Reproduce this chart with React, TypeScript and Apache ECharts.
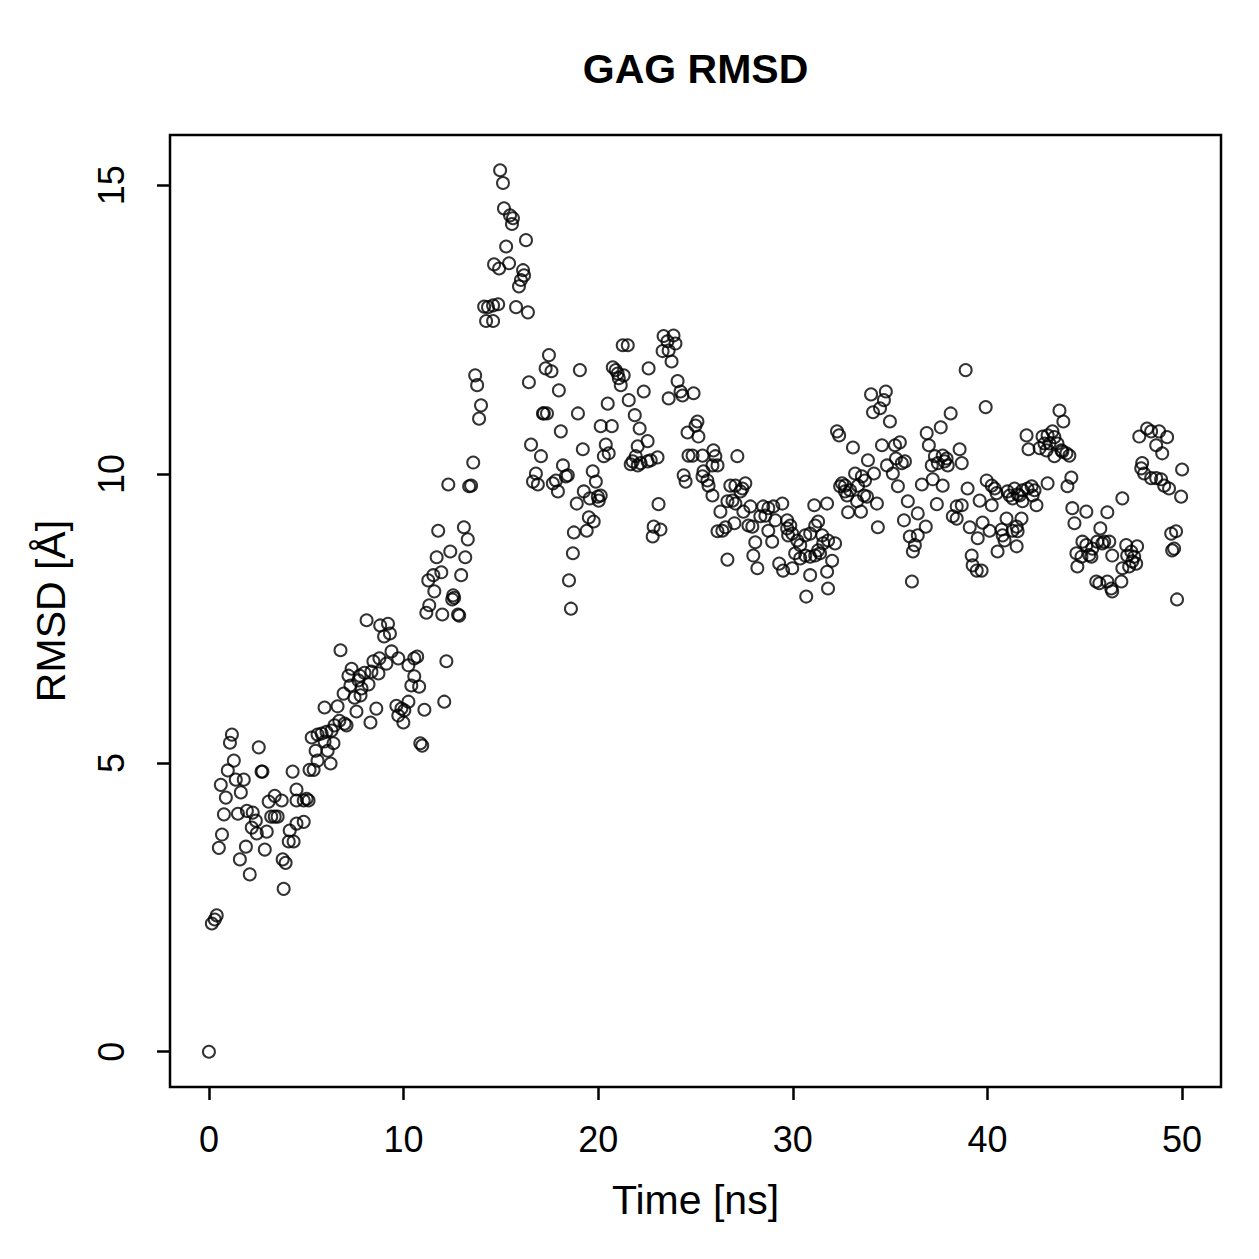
import React, { useEffect, useRef } from "react";
import * as echarts from "echarts";

// RMSD samples of the GAG trajectory as [time in ns, RMSD in Å], grouped by 10 ns window.
const rmsd0to10: [number, number][] = [
  [0, 0], [0.15, 2.22], [0.3, 2.29], [0.4, 2.36], [0.51, 3.53], [0.61, 4.62], [0.67, 3.76], [0.77, 4.11],
  [0.87, 4.4], [0.97, 4.87], [1.08, 5.35], [1.18, 5.49], [1.28, 5.04], [1.38, 4.71], [1.49, 4.12], [1.59, 3.33],
  [1.64, 4.49], [1.79, 4.71], [1.9, 3.55], [1.95, 4.17], [2.1, 3.07], [2.2, 3.88], [2.25, 4.14], [2.41, 4.0],
  [2.46, 3.78], [2.56, 5.27], [2.7, 4.85], [2.75, 4.85], [2.87, 3.5], [2.97, 3.81], [3.07, 4.33], [3.2, 4.07],
  [3.38, 4.43], [3.38, 4.07], [3.53, 4.07], [3.74, 4.35], [3.79, 3.33], [3.84, 2.82], [3.94, 3.27], [4.1, 3.64],
  [4.15, 3.83], [4.3, 4.85], [4.35, 3.64], [4.5, 4.54], [4.5, 4.35], [4.5, 3.95], [4.87, 3.98], [4.87, 4.35],
  [5.02, 4.38], [5.12, 4.35], [5.17, 4.88], [5.28, 5.44], [5.38, 4.88], [5.48, 5.21], [5.58, 5.49], [5.58, 5.04],
  [5.79, 5.51], [5.94, 5.96], [5.94, 5.37], [6.04, 5.54], [6.1, 5.21], [6.25, 4.99], [6.3, 5.56], [6.4, 5.34],
  [6.45, 5.65], [6.61, 5.98], [6.7, 5.73], [6.76, 6.95], [6.92, 6.2], [6.97, 5.68], [7.07, 5.65], [7.17, 6.51],
  [7.27, 6.34], [7.33, 6.63], [7.48, 6.13], [7.58, 5.89], [7.68, 6.43], [7.74, 6.51], [7.79, 6.17], [7.84, 6.29],
  [7.99, 6.56], [8.1, 7.47], [8.2, 6.36], [8.3, 5.7], [8.35, 6.58], [8.45, 6.76], [8.6, 5.94], [8.71, 6.55],
  [8.76, 6.81], [8.8, 7.38], [9.0, 7.19], [9.12, 6.72], [9.2, 7.41], [9.3, 7.24], [9.38, 6.93], [9.63, 5.99],
  [9.73, 6.81], [9.73, 5.82], [9.89, 5.94], [9.99, 5.7],
];

const rmsd10to20: [number, number][] = [
  [10.04, 5.91], [10.25, 6.06], [10.25, 6.69], [10.4, 6.34], [10.55, 6.81], [10.55, 6.5], [10.7, 6.84], [10.8, 6.32],
  [10.86, 5.34], [10.96, 5.3], [11.07, 5.92], [11.17, 7.6], [11.27, 8.16], [11.32, 7.73], [11.53, 8.25], [11.58, 7.97],
  [11.7, 8.56], [11.78, 9.02], [11.94, 8.3], [11.99, 7.57], [12.09, 6.06], [12.2, 6.76], [12.3, 9.82], [12.4, 8.66],
  [12.5, 7.83], [12.55, 7.9], [12.6, 7.86], [12.8, 7.57], [12.86, 7.55], [12.96, 8.25], [13.1, 9.08], [13.17, 8.56],
  [13.3, 8.87], [13.37, 9.79], [13.47, 9.8], [13.58, 10.2], [13.68, 11.71], [13.78, 11.54], [13.88, 10.96], [13.98, 11.19],
  [14.14, 12.9], [14.24, 12.65], [14.34, 12.89], [14.6, 12.92], [14.6, 12.65], [14.65, 13.63], [14.86, 12.94], [14.91, 13.56],
  [14.96, 15.26], [15.11, 15.04], [15.16, 14.6], [15.27, 13.94], [15.42, 13.65], [15.47, 14.48], [15.57, 14.33], [15.62, 14.43],
  [15.78, 12.89], [15.93, 13.25], [16.03, 13.36], [16.14, 13.53], [16.19, 13.44], [16.29, 14.05], [16.39, 12.8], [16.44, 11.59],
  [16.55, 10.51], [16.65, 9.87], [16.8, 10.01], [16.9, 9.82], [17.06, 10.31], [17.16, 11.05], [17.21, 11.05], [17.3, 11.83],
  [17.37, 11.05], [17.47, 12.06], [17.6, 11.78], [17.67, 9.84], [17.83, 9.89], [17.93, 9.7], [17.98, 11.45], [18.08, 10.74],
  [18.19, 10.15], [18.34, 9.96], [18.44, 9.98], [18.5, 8.16], [18.6, 7.67], [18.7, 8.63], [18.75, 8.99], [18.9, 9.49],
  [18.96, 11.05], [19.06, 11.8], [19.21, 10.43], [19.26, 9.7], [19.41, 9.02], [19.52, 9.25], [19.57, 9.58], [19.72, 10.05],
  [19.77, 9.18], [19.88, 9.87], [19.98, 9.61],
];

const rmsd20to30: [number, number][] = [
  [20.03, 9.54], [20.13, 9.63], [20.13, 10.83], [20.29, 10.31], [20.39, 10.51], [20.49, 11.22], [20.54, 10.36], [20.7, 10.83],
  [20.75, 11.85], [20.9, 11.8], [21.0, 11.74], [21.06, 11.66], [21.16, 11.54], [21.26, 12.23], [21.31, 11.71], [21.52, 12.23],
  [21.57, 11.28], [21.67, 10.17], [21.77, 10.22], [21.88, 11.02], [21.93, 10.31], [22.03, 10.48], [22.03, 10.15], [22.13, 10.79],
  [22.18, 10.19], [22.34, 11.43], [22.54, 10.57], [22.54, 10.22], [22.59, 11.83], [22.7, 10.24], [22.8, 8.92], [22.85, 9.09],
  [23.05, 10.29], [23.1, 9.48], [23.2, 9.04], [23.31, 12.13], [23.36, 12.39], [23.56, 12.3], [23.62, 12.14], [23.62, 11.31],
  [23.77, 11.95], [23.87, 12.4], [23.97, 12.26], [24.08, 11.61], [24.23, 11.43], [24.33, 11.36], [24.39, 9.98], [24.49, 9.87],
  [24.59, 10.72], [24.64, 10.32], [24.85, 10.32], [24.9, 11.4], [25.0, 10.84], [25.1, 10.91], [25.15, 10.65], [25.36, 10.32],
  [25.36, 9.96], [25.41, 10.05], [25.61, 9.89], [25.67, 9.8], [25.87, 10.15], [25.87, 9.63], [25.92, 10.41], [26.02, 10.31],
  [26.13, 10.15], [26.13, 9.01], [26.28, 9.35], [26.38, 9.02], [26.54, 9.08], [26.64, 9.53], [26.64, 8.52], [26.79, 9.8],
  [26.9, 9.54], [27.0, 9.15], [27.05, 9.8], [27.05, 9.49], [27.15, 10.31], [27.31, 9.7], [27.41, 9.75], [27.46, 9.35],
  [27.56, 9.84], [27.72, 9.11], [27.82, 9.44], [27.92, 9.09], [27.97, 8.59], [28.07, 8.82], [28.18, 8.37], [28.33, 9.27],
  [28.48, 9.44], [28.59, 9.28], [28.74, 9.41], [28.74, 9.02], [28.94, 8.83], [29.0, 9.44], [29.1, 9.2], [29.3, 8.45],
  [29.46, 9.49], [29.5, 8.33], [29.71, 9.2], [29.71, 9.06], [29.76, 8.94], [29.87, 9.11], [29.97, 8.97], [29.97, 8.37],
];

const rmsd30to40: [number, number][] = [
  [30.12, 8.63], [30.23, 8.85], [30.38, 8.77], [30.38, 8.54], [30.64, 8.94], [30.64, 8.59], [30.69, 7.88], [30.89, 8.97],
  [30.89, 8.57], [30.89, 8.25], [31.1, 9.46], [31.15, 9.11], [31.15, 8.59], [31.3, 9.18], [31.3, 8.68], [31.4, 8.63],
  [31.51, 8.94], [31.56, 8.8], [31.76, 9.49], [31.76, 8.31], [31.81, 8.85], [31.81, 8.02], [32.02, 8.5], [32.17, 8.8],
  [32.27, 10.74], [32.38, 10.67], [32.43, 9.79], [32.53, 9.84], [32.68, 9.8], [32.68, 9.7], [32.79, 9.63], [32.84, 9.34],
  [32.94, 9.72], [33.09, 10.46], [33.2, 10.01], [33.3, 9.53], [33.35, 9.8], [33.5, 9.35], [33.55, 9.96], [33.66, 9.63],
  [33.71, 9.89], [33.81, 9.61], [33.86, 10.24], [34.02, 11.38], [34.12, 11.07], [34.17, 10.01], [34.32, 9.49], [34.37, 9.08],
  [34.48, 11.14], [34.58, 10.5], [34.68, 11.28], [34.78, 11.43], [34.84, 10.15], [34.99, 10.91], [35.14, 10.01], [35.25, 10.5],
  [35.3, 10.27], [35.4, 9.79], [35.5, 10.55], [35.6, 10.19], [35.71, 9.2], [35.76, 10.22], [35.91, 9.53], [36.01, 8.92],
  [36.12, 8.14], [36.17, 8.66], [36.27, 8.77], [36.42, 9.32], [36.42, 8.94], [36.63, 9.82], [36.83, 9.09], [36.88, 10.71],
  [36.99, 10.5], [37.14, 10.15], [37.19, 9.91], [37.3, 10.31], [37.4, 9.48], [37.45, 10.19], [37.6, 10.81], [37.7, 10.32],
  [37.7, 9.8], [37.8, 10.22], [37.9, 10.27], [37.96, 10.15], [38.11, 11.05], [38.22, 9.27], [38.42, 9.44], [38.42, 9.23],
  [38.57, 10.43], [38.68, 10.19], [38.68, 9.46], [38.88, 11.8], [38.98, 9.75], [39.09, 9.08], [39.19, 8.59], [39.24, 8.42],
  [39.45, 8.33], [39.5, 8.89], [39.6, 9.54], [39.7, 8.33], [39.75, 9.16], [39.91, 11.16], [39.96, 9.89],
];

const rmsd40to50: [number, number][] = [
  [40.11, 9.02], [40.22, 9.8], [40.22, 9.46], [40.37, 9.75], [40.47, 9.67], [40.52, 8.66], [40.73, 9.04], [40.78, 8.94],
  [40.88, 8.85], [40.98, 9.23], [41.03, 9.7], [41.14, 9.63], [41.29, 9.58], [41.29, 9.02], [41.39, 9.75], [41.5, 9.09],
  [41.5, 8.75], [41.55, 9.65], [41.55, 9.01], [41.65, 9.63], [41.75, 9.23], [41.8, 9.72], [41.8, 9.53], [42.01, 10.67],
  [42.06, 9.75], [42.11, 10.43], [42.27, 9.79], [42.32, 9.63], [42.42, 9.72], [42.52, 9.46], [42.68, 10.45], [42.83, 10.65],
  [42.93, 10.53], [43.03, 10.41], [43.09, 10.67], [43.09, 9.84], [43.19, 10.53], [43.34, 10.74], [43.44, 10.64], [43.44, 10.31],
  [43.6, 10.53], [43.7, 11.1], [43.8, 10.41], [43.85, 10.39], [43.9, 10.91], [44.06, 10.36], [44.11, 9.79], [44.21, 10.32],
  [44.31, 9.94], [44.36, 9.41], [44.47, 9.15], [44.57, 8.63], [44.62, 8.4], [44.83, 8.57], [44.88, 8.83], [45.08, 9.35],
  [45.08, 8.77], [45.23, 8.6], [45.34, 8.57], [45.39, 8.71], [45.59, 8.14], [45.64, 8.83], [45.75, 8.11], [45.8, 9.06],
  [45.9, 8.8], [46.0, 8.83], [46.16, 9.34], [46.16, 8.14], [46.26, 8.83], [46.36, 8.02], [46.41, 8.59], [46.41, 7.97],
  [46.88, 8.14], [46.93, 9.58], [46.93, 8.37], [47.13, 8.77], [47.18, 8.59], [47.28, 8.4], [47.39, 8.66], [47.44, 8.49],
  [47.54, 8.57], [47.64, 8.45], [47.69, 8.75], [47.8, 10.65], [47.9, 10.1], [47.95, 10.19], [48.05, 10.01], [48.2, 10.79],
  [48.41, 10.74], [48.41, 9.93], [48.67, 10.5], [48.67, 9.93], [48.82, 10.74], [48.92, 9.91], [48.98, 10.36], [49.08, 9.8],
  [49.23, 10.64], [49.33, 9.75], [49.44, 8.97], [49.49, 8.68], [49.59, 8.71], [49.69, 9.01], [49.74, 7.83], [49.95, 9.61],
  [50.0, 10.08],
];

const xTickValues = [0, 10, 20, 30, 40, 50];
const yTickValues = [0, 5, 10, 15];
const chartTitle = "GAG RMSD";
const xAxisTitle = "Time [ns]";
const yAxisTitle = "RMSD [Å]";

// Data range widened by 4% on each side, the way base R plots set their limits.
function paddedRange(values: number[]): [number, number] {
  const lo = Math.min(...values);
  const hi = Math.max(...values);
  const pad = (hi - lo) * 0.04;
  return [lo - pad, hi + pad];
}

const FONT = '"Liberation Sans", Arial, Helvetica, sans-serif';

export default function App() {
  const ref = useRef<HTMLDivElement>(null);

  useEffect(() => {
    if (!ref.current) return;
    const chart = echarts.init(ref.current, null, { renderer: "svg" });
    const points = [...rmsd0to10, ...rmsd10to20, ...rmsd20to30, ...rmsd30to40, ...rmsd40to50];
    const [xMin, xMax] = paddedRange(points.map((p) => p[0]));
    const [yMin, yMax] = paddedRange(points.map((p) => p[1]));

    const gridLeft = 170;
    const gridTop = 135;
    const gridWidth = 1051;
    const gridHeight = 952;
    const centerX = gridLeft + gridWidth / 2;

    const titleStyle = (text: string, font: string) => ({
      text,
      textAlign: "center",
      textVerticalAlign: "middle",
      align: "center",
      verticalAlign: "middle",
      font,
      fill: "#000",
    });

    chart.setOption({
      animation: false,
      backgroundColor: "#ffffff",
      grid: {
        left: gridLeft,
        top: gridTop,
        width: gridWidth,
        height: gridHeight,
        show: true,
        borderColor: "#000",
        borderWidth: 2.5,
        backgroundColor: "transparent",
      },
      xAxis: {
        type: "value",
        min: xMin,
        max: xMax,
        axisLine: { show: false, onZero: false },
        splitLine: { show: false },
        axisTick: {
          show: true,
          inside: false,
          customValues: xTickValues,
          length: 13,
          lineStyle: { color: "#000", width: 2.5 },
        },
        axisLabel: {
          customValues: xTickValues,
          margin: 34,
          color: "#000",
          fontSize: 36,
          fontFamily: FONT,
        },
      },
      yAxis: {
        type: "value",
        min: yMin,
        max: yMax,
        axisLine: { show: false, onZero: false },
        splitLine: { show: false },
        axisTick: {
          show: true,
          inside: false,
          customValues: yTickValues,
          length: 13,
          lineStyle: { color: "#000", width: 2.5 },
        },
        axisLabel: {
          customValues: yTickValues,
          rotate: 90,
          margin: 41,
          color: "#000",
          fontSize: 36,
          fontFamily: FONT,
        },
      },
      graphic: [
        {
          type: "text",
          x: centerX,
          y: 69,
          style: titleStyle(chartTitle, `bold 41px ${FONT}`),
        },
        {
          type: "text",
          x: centerX,
          y: 1200,
          style: titleStyle(xAxisTitle, `41px ${FONT}`),
        },
        {
          type: "text",
          x: 51,
          y: gridTop + gridHeight / 2,
          rotation: Math.PI / 2,
          style: titleStyle(yAxisTitle, `41px ${FONT}`),
        },
      ],
      series: [
        {
          type: "scatter",
          data: points,
          symbol: "circle",
          symbolSize: 12,
          silent: true,
          itemStyle: {
            color: "transparent",
            borderColor: "#000",
            borderWidth: 2,
          },
        },
      ],
    });

    return () => chart.dispose();
  }, []);

  return (
    <div
      ref={ref}
      style={{ position: "absolute", left: 0, top: 0, width: 1259, height: 1259, background: "#fff" }}
    />
  );
}
